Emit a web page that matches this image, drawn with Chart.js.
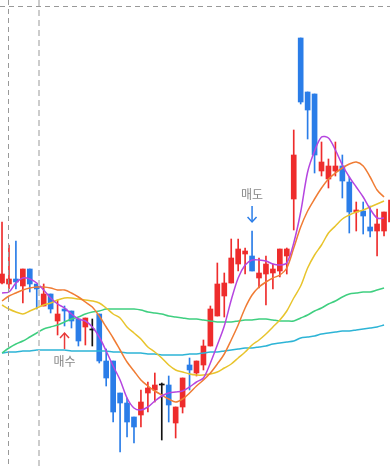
<!DOCTYPE html>
<html>
<head>
<meta charset="utf-8">
<script src="https://cdn.jsdelivr.net/npm/chart.js@4.4.0/dist/chart.umd.min.js"></script>
<style>
  html, body { margin: 0; padding: 0; background: #fff; }
  #wrap { width: 390px; height: 467px; }
</style>
</head>
<body>
<div id="wrap"><canvas id="chart" width="390" height="467"></canvas></div>
<script>
// daily candles (oldest -> newest), last one only partly on screen
const opens  = [3585,3580,3605,3570,3655,3580,3470,3530,3395,3455,3445,3405,3365,3350,3430,3195,3195,3035,2985,2915,2925,3035,3050,3075,3075,2885,2965,3175,3135,3175,3270,3420,3520,3585,3680,3730,3720,3610,3630,3635,3645,3720,4005,4810,4540,4530,4145,4105,4145,4170,4090,3940,3945,3865,3845,3845,3890];
const highs  = [3890,3775,3795,3655,3655,3580,3580,3530,3500,3470,3445,3405,3410,3405,3430,3255,3195,3035,3010,2915,3050,3090,3135,3085,3120,2965,3110,3210,3195,3300,3470,3685,3635,3805,3805,3760,3845,3710,3720,3680,3755,3760,4350,4810,4540,4530,4290,4205,4290,4225,4115,3990,3990,3970,3955,3940,4000];
const lows   = [3580,3555,3555,3485,3540,3455,3470,3435,3325,3370,3360,3270,3275,3270,3185,3070,2890,2740,2815,2785,2865,2940,2990,2800,2890,2810,2935,3050,3120,3150,3270,3420,3415,3585,3645,3630,3645,3560,3475,3555,3615,3630,3850,4480,4305,4135,4120,4060,4120,4010,3835,3845,3830,3815,3720,3820,3875];
const closes = [3630,3605,3590,3655,3580,3555,3530,3455,3430,3445,3395,3295,3410,3350,3195,3110,2940,2985,2890,2865,2990,3060,3075,3075,2975,2965,3110,3150,3195,3270,3455,3580,3585,3710,3755,3745,3645,3635,3680,3655,3755,3755,4225,4490,4450,4225,4190,4170,4170,4095,3940,3950,3920,3845,3880,3940,4000];

// moving averages
const ma5   = [3535,3540,3585,3610,3605,3585,3550,3510,3480,3460,3430,3405,3395,3365,3315,3245,3170,3100,3010,2960,2950,2965,2995,3020,3035,3040,3045,3065,3090,3110,3185,3275,3370,3500,3610,3675,3700,3700,3695,3680,3675,3685,3785,3940,4140,4245,4315,4310,4250,4175,4115,4065,4015,3955,3910,3910,null];
const ma10  = [3495,3520,3535,3550,3560,3565,3565,3560,3550,3550,3535,3515,3490,3465,3420,3365,3310,3250,3190,3145,3100,3070,3045,3025,3005,2990,3005,3035,3070,3100,3135,3180,3230,3300,3375,3460,3525,3565,3590,3610,3625,3660,3760,3865,3945,4005,4060,4105,4135,4160,4180,4190,4170,4115,4050,4015,null];
const ma20  = [3475,3455,3440,3430,3445,3460,3475,3485,3500,3510,3510,3505,3500,3495,3485,3460,3430,3410,3365,3335,3305,3265,3240,3210,3175,3150,3140,3130,3125,3125,3130,3140,3160,3180,3210,3240,3275,3300,3330,3365,3400,3445,3510,3570,3660,3725,3775,3835,3870,3905,3925,3940,3950,3965,3980,3995,null];
const ma60  = [3235,3260,3280,3295,3315,3335,3355,3365,3375,3390,3405,3415,3430,3440,3445,3455,3455,3455,3455,3455,3450,3440,3435,3430,3420,3415,3410,3405,3405,3400,3395,3390,3390,3390,3395,3400,3400,3405,3405,3400,3395,3395,3395,3410,3425,3445,3460,3480,3495,3515,3530,3535,3540,3540,3550,3560,null];
const ma120 = [3235,3240,3240,3245,3245,3250,3250,3250,3250,3250,3245,3245,3245,3245,3245,3245,3240,3240,3235,3235,3235,3230,3230,3225,3225,3225,3225,3230,3230,3235,3240,3240,3245,3250,3255,3260,3260,3265,3270,3280,3285,3290,3295,3310,3315,3320,3330,3335,3340,3345,3345,3350,3355,3360,3365,3375,null];

// signals and crosshair
const buyAt = 9;
const sellAt = 36;
const buyLabel = '매수';
const sellLabel = '매도';
const crossX = 0.86;
const crossY = 4968;
const dayLineX = 5.33;

const UP = '#ee2c2c', DOWN = '#2a7de8', FLAT = '#111111';

const idx = closes.map((c, i) => i);
const candleColors = idx.map(i => closes[i] > opens[i] ? UP : (closes[i] < opens[i] ? DOWN : FLAT));

function maLine(vals, color) {
    return {
        type: 'line',
        data: vals.map((v, i) => ({x: i, y: v})),
        borderColor: color,
        borderWidth: 1.5,
        pointRadius: 0,
        tension: 0.3,
        fill: false,
        spanGaps: false,
        order: 0,
    };
}

function drawArrow(ctx, x, yTail, yTip, color) {
    ctx.save();
    ctx.strokeStyle = color;
    ctx.lineWidth = 1.5;
    ctx.beginPath();
    ctx.moveTo(x, yTail);
    ctx.lineTo(x, yTip);
    ctx.stroke();
    const d = yTip > yTail ? -1 : 1;
    ctx.beginPath();
    ctx.moveTo(x - 4.5, yTip + d * 5);
    ctx.lineTo(x, yTip);
    ctx.lineTo(x + 4.5, yTip + d * 5);
    ctx.stroke();
    ctx.restore();
}

const overlay = {
    id: 'overlay',
    afterDatasetsDraw(chart) {
        const ctx = chart.ctx;
        const xs = chart.scales.x, ys = chart.scales.y;
        const area = chart.chartArea;

        ctx.save();
        // light day separator
        ctx.strokeStyle = '#cccccc';
        ctx.lineWidth = 2;
        ctx.setLineDash([6, 4]);
        let px = Math.round(xs.getPixelForValue(dayLineX));
        ctx.beginPath(); ctx.moveTo(px, area.top); ctx.lineTo(px, area.bottom); ctx.stroke();

        // crosshair
        ctx.strokeStyle = '#999999';
        ctx.lineWidth = 1;
        ctx.setLineDash([5, 4]);
        px = Math.round(xs.getPixelForValue(crossX)) + 0.5;
        ctx.beginPath(); ctx.moveTo(px, area.top); ctx.lineTo(px, area.bottom); ctx.stroke();
        const py = Math.round(ys.getPixelForValue(crossY)) + 0.5;
        ctx.beginPath(); ctx.moveTo(area.left, py); ctx.lineTo(area.right, py); ctx.stroke();
        ctx.setLineDash([]);

        ctx.font = "12px 'Noto Sans CJK KR'";
        ctx.fillStyle = '#888888';
        ctx.textAlign = 'center';
        ctx.textBaseline = 'middle';

        // sell signal above the high
        let x = xs.getPixelForValue(sellAt);
        let tip = ys.getPixelForValue(highs[sellAt]) - 9;
        drawArrow(ctx, x, tip - 16, tip, '#2a7de8');
        ctx.fillText(sellLabel, x, tip - 28);

        // buy signal below the low
        x = xs.getPixelForValue(buyAt);
        tip = ys.getPixelForValue(lows[buyAt]) + 7;
        drawArrow(ctx, x, tip + 16, tip, '#e83a3a');
        ctx.fillText(buyLabel, x, tip + 28);
        ctx.restore();
    }
};

const ctx = document.getElementById('chart');

const myChart = new Chart(ctx, {
    type: 'bar',
    data: {
        datasets: [
            maLine(ma5, '#b545e0'),
            maLine(ma10, '#f07c34'),
            maLine(ma20, '#e8c42c'),
            maLine(ma60, '#3fcf80'),
            maLine(ma120, '#2db4d6'),
            {
                data: idx.map(i => ({x: i, y: [opens[i], closes[i]]})),
                backgroundColor: candleColors,
                barThickness: 5,
                minBarLength: 1,
                grouped: false,
                borderWidth: 0,
                order: 1,
            },
            {
                data: idx.map(i => ({x: i, y: [lows[i], highs[i]]})),
                backgroundColor: candleColors,
                barThickness: 1,
                grouped: false,
                borderWidth: 0,
                order: 2,
            }
        ]
    },
    options: {
        responsive: false,
        animation: false,
        devicePixelRatio: 1,
        events: [],
        layout: { padding: 0 },
        plugins: {
            legend: { display: false },
            tooltip: { enabled: false },
        },
        scales: {
            x: { type: 'linear', min: -0.29, max: 55.86, offset: false, display: false },
            y: { min: 2665, max: 5000, display: false },
        }
    },
    plugins: [overlay]
});
</script>
</body>
</html>
